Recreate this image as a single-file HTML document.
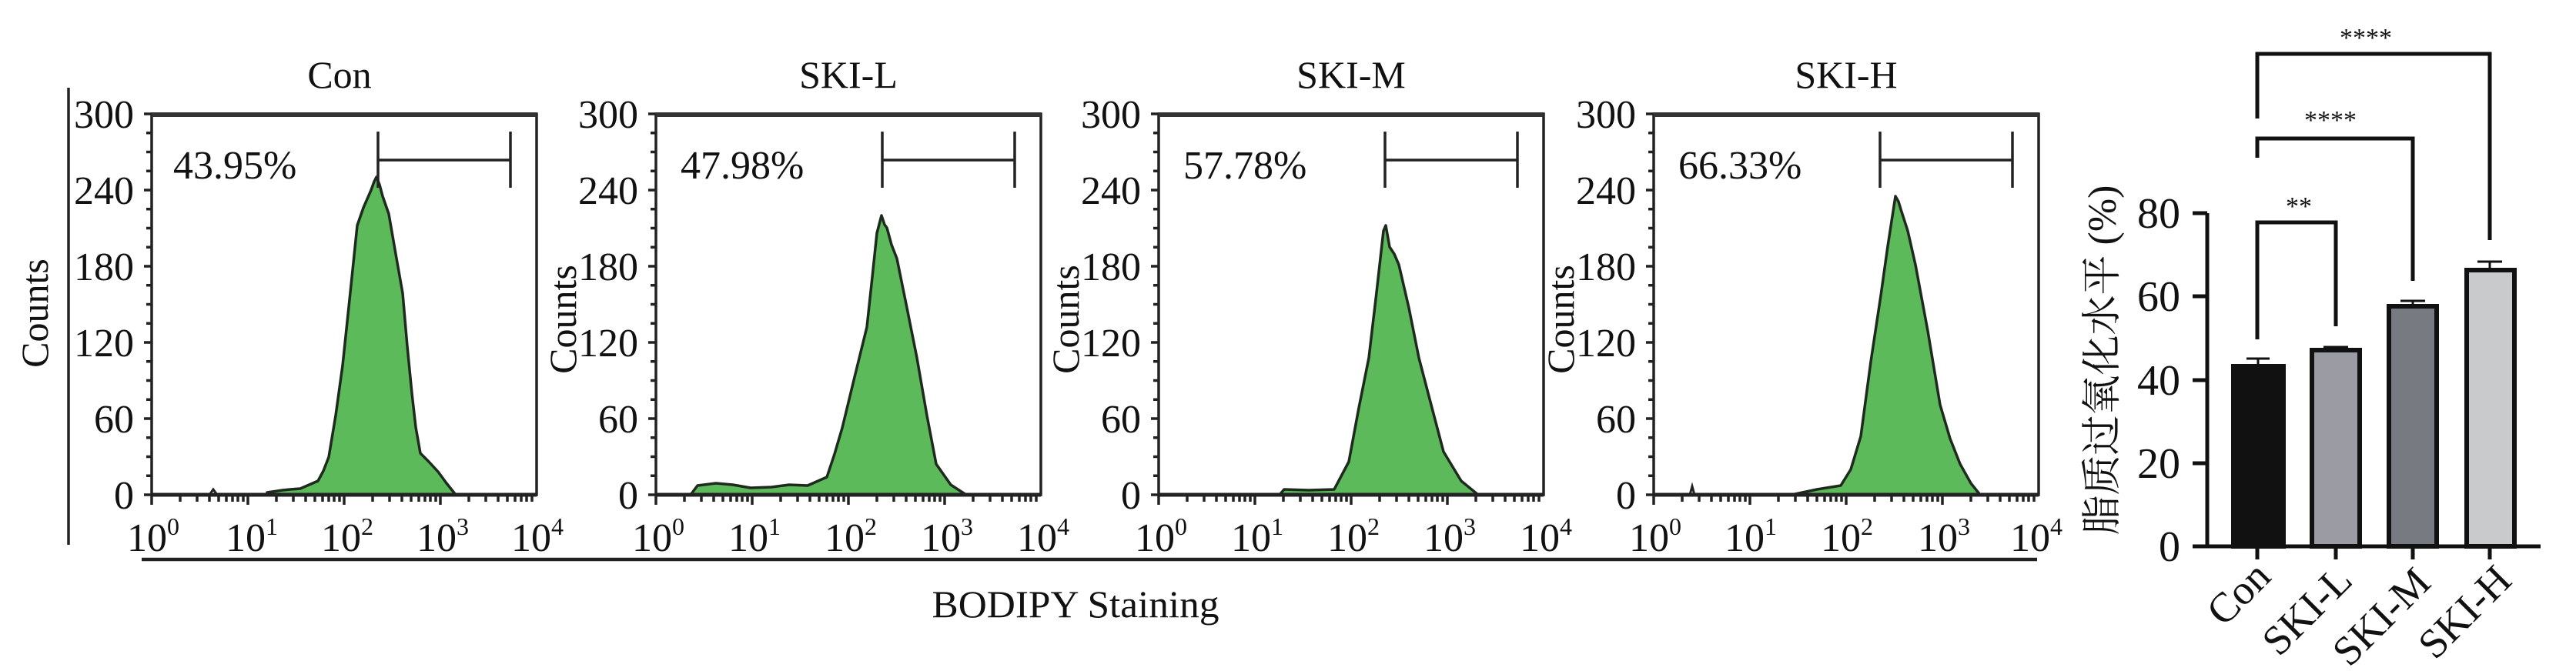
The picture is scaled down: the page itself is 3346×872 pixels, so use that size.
<!DOCTYPE html>
<html><head><meta charset="utf-8"><style>
html,body{margin:0;padding:0;background:#fff;}
svg{display:block;}
text{font-family:"Liberation Serif","Noto Serif CJK SC",serif;fill:#111;}
</style></head><body>
<svg width="3346" height="872" viewBox="0 0 3346 872" xmlns="http://www.w3.org/2000/svg">
<defs>
<g id="yticks" stroke="#222" stroke-width="3.5">
<line x1="-10" y1="148" x2="0" y2="148"/><line x1="-7" y1="172.75" x2="0" y2="172.75"/><line x1="-7" y1="197.5" x2="0" y2="197.5"/><line x1="-7" y1="222.25" x2="0" y2="222.25"/>
<line x1="-10" y1="247" x2="0" y2="247"/><line x1="-7" y1="271.75" x2="0" y2="271.75"/><line x1="-7" y1="296.5" x2="0" y2="296.5"/><line x1="-7" y1="321.25" x2="0" y2="321.25"/>
<line x1="-10" y1="346" x2="0" y2="346"/><line x1="-7" y1="370.75" x2="0" y2="370.75"/><line x1="-7" y1="395.5" x2="0" y2="395.5"/><line x1="-7" y1="420.25" x2="0" y2="420.25"/>
<line x1="-10" y1="445" x2="0" y2="445"/><line x1="-7" y1="469.75" x2="0" y2="469.75"/><line x1="-7" y1="494.5" x2="0" y2="494.5"/><line x1="-7" y1="519.25" x2="0" y2="519.25"/>
<line x1="-10" y1="544" x2="0" y2="544"/><line x1="-7" y1="568.75" x2="0" y2="568.75"/><line x1="-7" y1="593.5" x2="0" y2="593.5"/><line x1="-7" y1="618.25" x2="0" y2="618.25"/>
<line x1="-10" y1="643" x2="0" y2="643"/>
</g>
<g id="xticks" stroke="#222" stroke-width="3.5">
<line x1="0" y1="643" x2="0" y2="656"/><line x1="37" y1="643" x2="37" y2="652"/><line x1="59" y1="643" x2="59" y2="652"/><line x1="75" y1="643" x2="75" y2="652"/><line x1="87" y1="643" x2="87" y2="652"/><line x1="97" y1="643" x2="97" y2="652"/><line x1="105" y1="643" x2="105" y2="652"/><line x1="112" y1="643" x2="112" y2="652"/><line x1="119" y1="643" x2="119" y2="652"/>
<line x1="125" y1="643" x2="125" y2="656"/><line x1="162" y1="643" x2="162" y2="652"/><line x1="184" y1="643" x2="184" y2="652"/><line x1="200" y1="643" x2="200" y2="652"/><line x1="212" y1="643" x2="212" y2="652"/><line x1="222" y1="643" x2="222" y2="652"/><line x1="230" y1="643" x2="230" y2="652"/><line x1="237" y1="643" x2="237" y2="652"/><line x1="244" y1="643" x2="244" y2="652"/>
<line x1="250" y1="643" x2="250" y2="656"/><line x1="287" y1="643" x2="287" y2="652"/><line x1="309" y1="643" x2="309" y2="652"/><line x1="325" y1="643" x2="325" y2="652"/><line x1="337" y1="643" x2="337" y2="652"/><line x1="347" y1="643" x2="347" y2="652"/><line x1="355" y1="643" x2="355" y2="652"/><line x1="362" y1="643" x2="362" y2="652"/><line x1="369" y1="643" x2="369" y2="652"/>
<line x1="375" y1="643" x2="375" y2="656"/><line x1="412" y1="643" x2="412" y2="652"/><line x1="434" y1="643" x2="434" y2="652"/><line x1="450" y1="643" x2="450" y2="652"/><line x1="462" y1="643" x2="462" y2="652"/><line x1="472" y1="643" x2="472" y2="652"/><line x1="480" y1="643" x2="480" y2="652"/><line x1="487" y1="643" x2="487" y2="652"/><line x1="494" y1="643" x2="494" y2="652"/>
</g>
<g id="frame">
<rect x="0" y="148" width="500" height="495" fill="none" stroke="#222" stroke-width="3.5"/>
<line x1="0" y1="149" x2="500" y2="149" stroke="#333" stroke-width="6"/>
<line x1="0" y1="643" x2="500" y2="643" stroke="#222" stroke-width="5"/>
<use href="#yticks"/><use href="#xticks"/>
<g stroke="#222" stroke-width="3.5"><line x1="294" y1="171" x2="294" y2="244"/><line x1="294" y1="208" x2="466" y2="208"/><line x1="466" y1="171" x2="466" y2="244"/></g>
</g>
</defs>

<line x1="89" y1="114" x2="89" y2="708" stroke="#222" stroke-width="3.5"/>
<line x1="184" y1="727" x2="2646" y2="727" stroke="#222" stroke-width="4.5"/>
<text x="1397" y="802" font-size="50" text-anchor="middle" textLength="373" lengthAdjust="spacingAndGlyphs">BODIPY Staining</text>
<text transform="translate(62,407) rotate(-90)" font-size="50" text-anchor="middle">Counts</text>

<g fill="#5dba5a" stroke="#1f2a1f" stroke-width="3.5" stroke-linejoin="round">
<polygon points="347,643 347,640 367,637 377,636 390,635 413,625 420,612 427,594 436,540 445,475 455,380 464,293 472,270 482,247 486,236 489,230 493,240 497,255 505,278 514,330 523,381 529,450 535,511 540,555 546,589 557,600 569,613 580,628 592,643"/>
<polygon points="897,643 906,631 930,628 952,630 975,634 1002,633 1025,630 1049,631 1074,620 1084,590 1094,556 1110,490 1126,425 1133,360 1139,303 1145,280 1149,292 1152,296 1158,318 1165,336 1178,400 1191,465 1204,540 1216,603 1235,630 1255,643"/>
<polygon points="1662,643 1668,636 1700,637 1733,636 1752,600 1765,530 1778,465 1788,380 1797,300 1800,293 1805,321 1811,330 1817,344 1830,400 1843,465 1860,530 1875,587 1898,625 1920,643"/>
<polygon points="2327,643 2360,636 2391,631 2404,610 2417,567 2430,470 2443,384 2452,320 2462,255 2466,262 2469,272 2478,300 2488,344 2504,430 2520,526 2533,570 2546,603 2560,628 2572,643"/>
</g>
<g fill="none" stroke="#222" stroke-width="3">
<polyline points="272,643 277,636 282,643"/>
<polyline points="2195,643 2198,632 2201,643"/>
</g>

<g transform="translate(197,0)">
<use href="#frame"/>
<text x="244" y="114" font-size="50" text-anchor="middle">Con</text>
<text x="28" y="232" font-size="52">43.95%</text>
</g>
<g transform="translate(852,0)">
<use href="#frame"/>
<text x="250" y="114" font-size="50" text-anchor="middle">SKI-L</text>
<text x="32" y="232" font-size="52">47.98%</text>
<text transform="translate(-104,415) rotate(-90)" font-size="50" text-anchor="middle">Counts</text>
</g>
<g transform="translate(1505,0)">
<use href="#frame"/>
<text x="250" y="114" font-size="50" text-anchor="middle">SKI-M</text>
<text x="32" y="232" font-size="52">57.78%</text>
<text transform="translate(-104,415) rotate(-90)" font-size="50" text-anchor="middle">Counts</text>
</g>
<g transform="translate(2148,0)">
<use href="#frame"/>
<text x="250" y="114" font-size="50" text-anchor="middle">SKI-H</text>
<text x="32" y="232" font-size="52">66.33%</text>
<text transform="translate(-104,415) rotate(-90)" font-size="50" text-anchor="middle">Counts</text>
</g>

<g font-size="52" text-anchor="end">
<text x="174" y="166">300</text><text x="174" y="265">240</text><text x="174" y="364">180</text><text x="174" y="463">120</text><text x="174" y="562">60</text><text x="174" y="661">0</text>
<text x="829" y="166">300</text><text x="829" y="265">240</text><text x="829" y="364">180</text><text x="829" y="463">120</text><text x="829" y="562">60</text><text x="829" y="661">0</text>
<text x="1482" y="166">300</text><text x="1482" y="265">240</text><text x="1482" y="364">180</text><text x="1482" y="463">120</text><text x="1482" y="562">60</text><text x="1482" y="661">0</text>
<text x="2125" y="166">300</text><text x="2125" y="265">240</text><text x="2125" y="364">180</text><text x="2125" y="463">120</text><text x="2125" y="562">60</text><text x="2125" y="661">0</text>
</g>
<g font-size="52">
<text x="165" y="716">10<tspan font-size="32" dy="-21">0</tspan></text>
<text x="293" y="716">10<tspan font-size="32" dy="-21">1</tspan></text>
<text x="417" y="716">10<tspan font-size="32" dy="-21">2</tspan></text>
<text x="541" y="716">10<tspan font-size="32" dy="-21">3</tspan></text>
<text x="664" y="716">10<tspan font-size="32" dy="-21">4</tspan></text>

<text x="821" y="716">10<tspan font-size="32" dy="-21">0</tspan></text>
<text x="946" y="716">10<tspan font-size="32" dy="-21">1</tspan></text>
<text x="1071" y="716">10<tspan font-size="32" dy="-21">2</tspan></text>
<text x="1196" y="716">10<tspan font-size="32" dy="-21">3</tspan></text>
<text x="1321" y="716">10<tspan font-size="32" dy="-21">4</tspan></text>

<text x="1474" y="716">10<tspan font-size="32" dy="-21">0</tspan></text>
<text x="1599" y="716">10<tspan font-size="32" dy="-21">1</tspan></text>
<text x="1724" y="716">10<tspan font-size="32" dy="-21">2</tspan></text>
<text x="1849" y="716">10<tspan font-size="32" dy="-21">3</tspan></text>
<text x="1974" y="716">10<tspan font-size="32" dy="-21">4</tspan></text>

<text x="2116" y="716">10<tspan font-size="32" dy="-21">0</tspan></text>
<text x="2240" y="716">10<tspan font-size="32" dy="-21">1</tspan></text>
<text x="2365" y="716">10<tspan font-size="32" dy="-21">2</tspan></text>
<text x="2491" y="716">10<tspan font-size="32" dy="-21">3</tspan></text>
<text x="2611" y="716">10<tspan font-size="32" dy="-21">4</tspan></text>
</g>

<g stroke="#111" stroke-width="5">
<line x1="2867" y1="277" x2="2867" y2="712"/>
<line x1="2848" y1="710" x2="3300" y2="710"/>
<line x1="2848" y1="277" x2="2867" y2="277"/>
<line x1="2848" y1="385" x2="2867" y2="385"/>
<line x1="2848" y1="494" x2="2867" y2="494"/>
<line x1="2848" y1="602" x2="2867" y2="602"/>
<line x1="2932" y1="710" x2="2932" y2="727"/>
<line x1="3034" y1="710" x2="3034" y2="727"/>
<line x1="3134" y1="710" x2="3134" y2="727"/>
<line x1="3234" y1="710" x2="3234" y2="727"/>
</g>
<g stroke="#111" stroke-width="6">
<rect x="2901" y="476" width="65" height="234" fill="#111"/>
<rect x="3003" y="455" width="62" height="255" fill="#9a9ba3"/>
<rect x="3103" y="398" width="62" height="312" fill="#787a81"/>
<rect x="3204" y="351" width="62" height="359" fill="#c9cacc"/>
</g>
<g stroke="#111" stroke-width="3">
<line x1="2933" y1="466" x2="2933" y2="476"/><line x1="2918" y1="466" x2="2948" y2="466"/>
<line x1="3034" y1="451" x2="3034" y2="455"/><line x1="3018" y1="451" x2="3050" y2="451"/>
<line x1="3134" y1="391" x2="3134" y2="398"/><line x1="3118" y1="391" x2="3150" y2="391"/>
<line x1="3234" y1="340" x2="3234" y2="350"/><line x1="3218" y1="340" x2="3250" y2="340"/>
</g>
<g fill="none" stroke="#111" stroke-width="5">
<polyline points="2932,441 2932,289 3034,289 3034,424"/>
<polyline points="2932,205 2932,180 3134,180 3134,365"/>
<polyline points="2932,154 2932,70 3234,70 3234,312"/>
</g>
<g font-size="34" text-anchor="middle">
<text x="2986" y="279">**</text>
<text x="3027" y="167">****</text>
<text x="3073" y="60">****</text>
</g>
<g font-size="56" text-anchor="end">
<text x="2832" y="296">80</text>
<text x="2832" y="404">60</text>
<text x="2832" y="513">40</text>
<text x="2832" y="621">20</text>
<text x="2832" y="729">0</text>
</g>
<text transform="translate(2748,468) rotate(-90)" font-size="52" text-anchor="middle">脂质过氧化水平 (%)</text>
<g font-size="54" text-anchor="end">
<text transform="translate(2952,752) rotate(-45)">Con</text>
<text transform="translate(3058,757) rotate(-45)">SKI-L</text>
<text transform="translate(3160,760) rotate(-45)">SKI-M</text>
<text transform="translate(3265,757) rotate(-45)">SKI-H</text>
</g>
</svg>
</body></html>
